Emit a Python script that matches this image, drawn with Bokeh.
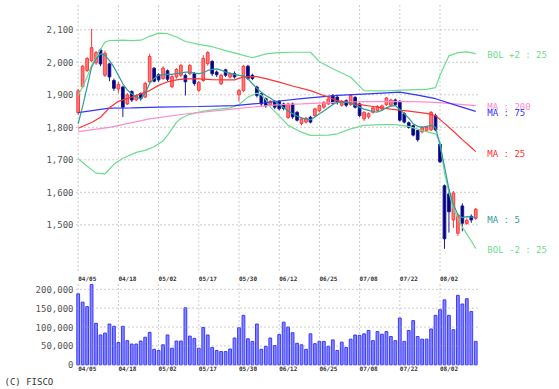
from bokeh.plotting import figure
from bokeh.layouts import column
from bokeh.models import Range1d
from bokeh.core.properties import value
from bokeh.embed import file_html
from bokeh.resources import INLINE

# ---- data (trading days 2024/04/05 .. 2024/08/15) ----
tick_days = [0, 9, 18, 27, 36, 45, 54, 63, 72, 81]
tick_labels = ["04/05", "04/18", "05/02", "05/17", "05/30", "06/12", "06/25", "07/08", "07/22", "08/02"]
price_ticks = [1500, 1600, 1700, 1800, 1900, 2000, 2100]
price_tick_labels = ["1,500", "1,600", "1,700", "1,800", "1,900", "2,000", "2,100"]
vol_ticks = [0, 50000, 100000, 150000, 200000]
vol_tick_labels = ["0", "50,000", "100,000", "150,000", "200,000"]

opens = [1845, 1925, 1975, 2005, 1998, 2038, 1960, 1995, 1944, 1918,
         1924, 1872, 1910, 1884, 1904, 1893, 1940, 1982, 1962, 1950,
         1974, 1925, 1955, 1960, 1960, 1965, 1965, 1914, 1944, 1996,
         2003, 1970, 1934, 1977, 1955, 1965, 1900, 1913, 1988, 1960,
         1924, 1903, 1888, 1870, 1880, 1880, 1872, 1830, 1872, 1846,
         1812, 1816, 1831, 1836, 1851, 1862, 1872, 1898, 1893, 1868,
         1882, 1870, 1892, 1872, 1826, 1832, 1846, 1852, 1856, 1870,
         1868, 1884, 1880, 1842, 1814, 1805, 1790, 1786, 1790, 1792,
         1836, 1748, 1620, 1595, 1515, 1474, 1558, 1504, 1526, 1520]
highs = [1918, 1992, 2016, 2103, 2035, 2042, 2036, 1998, 1950, 1940,
         1928, 1906, 1914, 1902, 1907, 1940, 2026, 1985, 1966, 1988,
         1978, 1962, 1982, 1995, 1965, 1995, 1970, 1942, 2022, 2034,
         2006, 1975, 1965, 1980, 1970, 1972, 1918, 1992, 1992, 1965,
         1928, 1906, 1892, 1884, 1884, 1884, 1876, 1876, 1876, 1850,
         1830, 1832, 1835, 1860, 1870, 1880, 1890, 1902, 1896, 1884,
         1886, 1902, 1896, 1876, 1850, 1846, 1864, 1868, 1870, 1893,
         1888, 1888, 1884, 1846, 1818, 1808, 1794, 1804, 1804, 1850,
         1842, 1752, 1624, 1610, 1604, 1534, 1566, 1520, 1532, 1552]
lows = [1838, 1920, 1970, 2000, 1992, 1988, 1955, 1942, 1912, 1905,
        1832, 1868, 1878, 1880, 1882, 1890, 1936, 1938, 1940, 1946,
        1942, 1920, 1950, 1955, 1898, 1960, 1928, 1908, 1940, 1990,
        1958, 1955, 1930, 1955, 1950, 1950, 1880, 1908, 1945, 1945,
        1892, 1865, 1860, 1865, 1856, 1852, 1852, 1826, 1826, 1818,
        1806, 1812, 1812, 1832, 1846, 1857, 1868, 1870, 1870, 1864,
        1862, 1866, 1858, 1832, 1820, 1826, 1842, 1848, 1852, 1866,
        1864, 1866, 1818, 1812, 1796, 1772, 1756, 1782, 1786, 1788,
        1788, 1690, 1426, 1476, 1490, 1466, 1480, 1500, 1506, 1515]
closes = [1912, 1988, 2012, 2045, 2030, 1995, 2028, 1955, 1920, 1932,
          1862, 1900, 1884, 1897, 1888, 1935, 2018, 1942, 1946, 1982,
          1948, 1956, 1978, 1990, 1940, 1990, 1935, 1938, 2012, 2030,
          1965, 1962, 1960, 1960, 1965, 1955, 1913, 1988, 1950, 1950,
          1898, 1872, 1866, 1880, 1862, 1857, 1858, 1872, 1832, 1822,
          1826, 1828, 1816, 1857, 1867, 1877, 1887, 1874, 1876, 1880,
          1868, 1898, 1862, 1836, 1846, 1842, 1860, 1864, 1866, 1890,
          1884, 1870, 1822, 1816, 1800, 1776, 1762, 1800, 1800, 1846,
          1792, 1694, 1457, 1540, 1598, 1526, 1505, 1514, 1515, 1548]
volumes = [188000, 166000, 154000, 213000, 110000, 79000, 84000, 108000, 102000, 59000,
           102000, 64000, 55000, 55000, 63000, 73000, 86000, 41000, 38000, 53000,
           79000, 44000, 63000, 63000, 151000, 76000, 70000, 44000, 99000, 79000,
           46000, 38000, 35000, 35000, 42000, 71000, 98000, 131000, 69000, 62000,
           108000, 41000, 49000, 71000, 51000, 80000, 113000, 100000, 85000, 57000,
           53000, 41000, 82000, 56000, 62000, 62000, 49000, 66000, 38000, 60000,
           46000, 68000, 79000, 78000, 82000, 91000, 64000, 88000, 81000, 88000,
           75000, 64000, 124000, 62000, 91000, 117000, 75000, 68000, 68000, 95000,
           131000, 146000, 172000, 131000, 93000, 184000, 161000, 175000, 141000, 62000]

ma5_vals = [1811, 1865, 1924, 1985, 2011, 2026, 2022, 2005, 1985, 1960,
            1934, 1915, 1903, 1893, 1888, 1905, 1935, 1950, 1960, 1962,
            1963, 1963, 1965, 1967, 1970, 1970, 1967, 1965, 1968, 1975,
            1978, 1980, 1976, 1970, 1966, 1963, 1960, 1958, 1950, 1934,
            1920, 1908, 1898, 1890, 1880, 1870, 1860, 1850, 1842, 1835,
            1829, 1825, 1823, 1832, 1842, 1850, 1860, 1870, 1877, 1877,
            1877, 1875, 1868, 1862, 1856, 1852, 1848, 1847, 1852, 1860,
            1865, 1867, 1855, 1842, 1828, 1811, 1803, 1800, 1803, 1806,
            1800, 1745, 1680, 1610, 1562, 1532, 1522, 1525, 1524, 1522]

ma25_days = [0, 3, 5, 7, 9, 12, 14, 16, 18, 20, 22, 24, 27, 30, 33, 35, 37, 40, 42, 45,
             48, 52, 55, 58, 62, 66, 70, 74, 78, 80, 82, 84, 86, 88, 89]
ma25_vals = [1797, 1815, 1831, 1860, 1880, 1893, 1903, 1913, 1929, 1940, 1946, 1949, 1949,
             1947, 1946, 1946, 1955, 1956, 1950, 1939, 1927, 1913, 1898, 1882, 1872, 1864,
             1856, 1850, 1843, 1836, 1812, 1788, 1762, 1738, 1725]

ma75_days = [0, 7, 12, 18, 27, 35, 41, 45, 50, 58, 65, 72, 76, 80, 85, 89]
ma75_vals = [1845, 1859, 1860, 1862, 1864, 1867, 1874, 1881, 1888, 1898, 1903, 1908, 1899,
             1888, 1866, 1849]

ma200_days = [0, 7, 16, 24, 35, 45, 50, 58, 65, 73, 80, 89]
ma200_vals = [1787, 1800, 1826, 1841, 1857, 1870, 1872, 1877, 1879, 1880, 1877, 1867]

bolu_days = [0, 1, 2, 3, 4, 5, 6, 7, 10, 12, 14, 16, 18, 20, 22, 24, 27, 30, 33, 36, 39,
             42, 45, 48, 52, 54, 57, 61, 64, 67, 70, 74, 78, 80, 81, 82, 83, 85, 87, 89]
bolu_vals = [1898, 1925, 1955, 1990, 2015, 2040, 2062, 2067, 2068, 2067, 2068, 2080, 2090,
             2088, 2078, 2064, 2055, 2048, 2036, 2025, 2014, 2026, 2030, 2031, 2031, 2002,
             1980, 1954, 1913, 1912, 1913, 1915, 1917, 1922, 1960, 1990, 2020, 2030, 2032, 2027]

boll_days = [0, 2, 4, 6, 8, 10, 13, 15, 17, 19, 20, 21, 22, 23, 25, 28, 31, 34, 36, 38, 40,
             41, 42, 43, 45, 47, 50, 52, 56, 58, 61, 64, 68, 71, 74, 77, 80, 81, 82, 83, 84,
             85, 86, 87, 88, 89]
boll_vals = [1703, 1680, 1659, 1657, 1686, 1705, 1723, 1729, 1740, 1758, 1775, 1795, 1815,
             1828, 1840, 1850, 1855, 1860, 1870, 1893, 1905, 1900, 1885, 1862, 1835, 1806,
             1785, 1775, 1776, 1780, 1795, 1806, 1808, 1808, 1803, 1790, 1780, 1755, 1660,
             1600, 1550, 1520, 1493, 1472, 1450, 1427]

line_names = ["BOL +2 : 25", "MA : 200", "MA : 75", "MA : 25", "MA : 5", "BOL -2 : 25"]

# ---- styling / geometry (index units and value units for the whole canvas) ----
MONO = "DejaVu Sans Mono"
GRID = "#9a9a9a"
UP_FILL, UP_LINE = "#ff7a7a", "#ff3a3a"
DN_FILL, DN_LINE = "#000080", "#1a1a90"
C_MA5, C_MA25, C_MA75, C_MA200, C_BOL = "#2f9c9c", "#ff3333", "#3333ff", "#ff8ccc", "#6edc8e"

X_CANVAS = (-17.39, 107.75)      # whole 559px width
X_PLOT = (-0.38, 89.39)          # dotted grid area
P_CANVAS = (1319.4, 2190.2)      # price canvas 283px
P_PLOT = (1359.4, 2174.8)
V_CANVAS = (-65430, 215364)      # volume canvas 106px
V_PLOT = (-1850, 215364)
LABEL_X = -1.05
RIGHT_X = 91.6

def base(h, yr):
    f = figure(width=559, height=h, output_backend="svg", toolbar_location=None,
               x_range=Range1d(*X_CANVAS), y_range=Range1d(*yr),
               min_border=0, min_border_left=0, min_border_right=0,
               min_border_top=0, min_border_bottom=0)
    f.axis.visible = False
    f.grid.visible = False
    f.outline_line_color = None
    return f

def grid(f, yticks, yplot):
    f.segment(x0=[X_PLOT[0]] * len(yticks), x1=[X_PLOT[1]] * len(yticks), y0=yticks, y1=yticks,
              line_color=GRID, line_dash="1 3", line_width=1)
    f.segment(x0=tick_days, x1=tick_days, y0=[yplot[0]] * len(tick_days),
              y1=[yplot[1]] * len(tick_days), line_color=GRID, line_dash="1 3", line_width=1)

days = list(range(len(closes)))

# ---- price ----
p = base(283, P_CANVAS)
grid(p, price_ticks, P_PLOT)
p.text(x=[LABEL_X] * len(price_ticks), y=price_ticks, text=price_tick_labels,
       text_font=value(MONO), text_font_size="9px", text_color="#555555",
       text_align="right", text_baseline="middle")

up = [i for i in days if closes[i] >= opens[i]]
dn = [i for i in days if closes[i] < opens[i]]
for idx, fc, lc in ((up, UP_FILL, UP_LINE), (dn, DN_FILL, DN_LINE)):
    p.segment(x0=idx, x1=idx, y0=[lows[i] for i in idx], y1=[highs[i] for i in idx],
              line_color=lc, line_width=1)
    p.vbar(x=idx, width=0.6, top=[max(opens[i], closes[i]) for i in idx],
           bottom=[min(opens[i], closes[i]) for i in idx],
           fill_color=fc, line_color=lc, line_width=1)

p.line(bolu_days, bolu_vals, line_color=C_BOL, line_width=1.2)
p.line(boll_days, boll_vals, line_color=C_BOL, line_width=1.2)
p.line(ma200_days, ma200_vals, line_color=C_MA200, line_width=1.2)
p.line(ma75_days, ma75_vals, line_color=C_MA75, line_width=1.2)
p.line(ma25_days, ma25_vals, line_color=C_MA25, line_width=1.2)
p.line(days, ma5_vals, line_color=C_MA5, line_width=1.2)

last_vals = [bolu_vals[-1], ma200_vals[-1], ma75_vals[-1], ma25_vals[-1], ma5_vals[-1], boll_vals[-1]]
colors = [C_BOL, C_MA200, C_MA75, C_MA25, C_MA5, C_BOL]
p.text(x=[RIGHT_X] * 6, y=[v - 6 for v in last_vals], text=line_names, text_color=colors,
       text_font=value(MONO), text_font_size="9px", text_align="left", text_baseline="middle")

p.text(x=tick_days, y=[1336] * len(tick_days), text=tick_labels, text_font=value(MONO),
       text_font_size="6px", text_font_style="bold", text_color="#333333",
       text_align="left", text_baseline="middle")

# ---- volume ----
v = base(106, V_CANVAS)
v.vbar(x=days, width=0.62, top=volumes, bottom=0,
       fill_color="#8585ff", line_color="#3a3aff", line_width=1)
grid(v, vol_ticks, V_PLOT)
v.text(x=[LABEL_X] * len(vol_ticks), y=vol_ticks, text=vol_tick_labels,
       text_font=value(MONO), text_font_size="9px", text_color="#555555",
       text_align="right", text_baseline="middle")
v.text(x=tick_days, y=[-10600] * len(tick_days), text=tick_labels, text_font=value(MONO),
       text_font_size="6px", text_font_style="bold", text_color="#333333",
       text_align="left", text_baseline="middle")
v.text(x=[-16.5], y=[-46100], text=["(C) FISCO"], text_font=value(MONO),
       text_font_size="9px", text_color="#333333", text_align="left", text_baseline="middle")

layout = column(p, v, spacing=0)
open("out.html", "w").write(file_html(layout, INLINE))
